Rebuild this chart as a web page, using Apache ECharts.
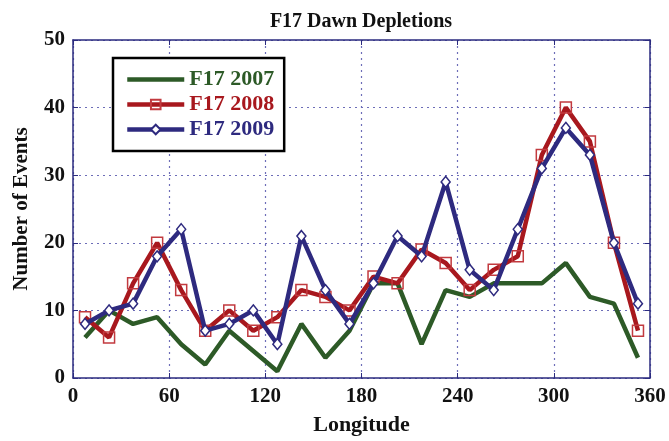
<!DOCTYPE html>
<html>
<head>
<meta charset="utf-8">
<script src="https://cdn.jsdelivr.net/npm/echarts@6/dist/echarts.min.js"></script>
<style>
  html, body { margin: 0; padding: 0; background: #fff; }
  #chart { width: 669px; height: 441px; }
</style>
</head>
<body>
<div id="chart"></div>
<script>
// Longitude bin centres (15-degree bins)
const longitudes = [7.5, 22.5, 37.5, 52.5, 67.5, 82.5, 97.5, 112.5, 127.5, 142.5, 157.5, 172.5,
                    187.5, 202.5, 217.5, 232.5, 247.5, 262.5, 277.5, 292.5, 307.5, 322.5, 337.5, 352.5];
// Event counts per bin
const f17_2007 = [6, 10, 8, 9, 5, 2, 7, 4, 1, 8, 3, 7, 14, 14, 5, 13, 12, 14, 14, 14, 17, 12, 11, 3];
const f17_2008 = [9, 6, 14, 20, 13, 7, 10, 7, 9, 13, 12, 10, 15, 14, 19, 17, 13, 16, 18, 33, 40, 35, 20, 7];
const f17_2009 = [8, 10, 11, 18, 22, 7, 8, 10, 5, 21, 13, 8, 14, 21, 18, 29, 16, 13, 22, 31, 37, 33, 20, 11];
const seriesNames = ['F17 2007', 'F17 2008', 'F17 2009'];
const xTicks = [0, 60, 120, 180, 240, 300, 360];
const yTicks = [0, 10, 20, 30, 40, 50];

const FONT = '"Liberation Serif", "Times New Roman", serif';
const AXIS_COLOR = '#2b2b7f';
const GRID_COLOR = '#6d6db8';
const COLORS = ['#2d5a27', '#a8181e', '#2e2a7f'];
const LINE_W = 4.5;

const pairs = vals => longitudes.map((x, i) => [x, vals[i]]);

const tickStyle = { show: true, inside: true, length: 5, lineStyle: { color: AXIS_COLOR, width: 1 } };
const labelStyle = { fontFamily: FONT, fontWeight: 'bold', fontSize: 21, color: '#111' };
const gridLine = { show: true, lineStyle: { color: GRID_COLOR, type: [2, 4], width: 1.2 } };

const chart = echarts.init(document.getElementById('chart'), null, { renderer: 'canvas' });
chart.setOption({
  animation: false,
  backgroundColor: '#fff',
  title: {
    text: 'F17 Dawn Depletions',
    left: 356, top: 7, textAlign: 'center',
    textStyle: { fontFamily: FONT, fontWeight: 'bold', fontSize: 20, color: '#111' }
  },
  grid: { left: 73, right: 19, top: 40, bottom: 58, containLabel: false },
  legend: {
    left: 113, top: 58,
    orient: 'vertical',
    data: [
      { name: seriesNames[0], textStyle: { color: COLORS[0] },
        itemStyle: { opacity: 0 }, lineStyle: { width: LINE_W, color: COLORS[0] } },
      { name: seriesNames[1], textStyle: { color: COLORS[1] },
        lineStyle: { width: LINE_W, color: COLORS[1] } },
      { name: seriesNames[2], textStyle: { color: COLORS[2] },
        lineStyle: { width: LINE_W, color: COLORS[2] } }
    ],
    itemWidth: 57, itemHeight: 12, itemGap: 0,
    padding: [9, 10, 9, 12],
    borderColor: '#000', borderWidth: 2.5, backgroundColor: '#fff',
    textStyle: { fontFamily: FONT, fontWeight: 'bold', fontSize: 22, lineHeight: 25 }
  },
  xAxis: [{
    type: 'value', min: xTicks[0], max: xTicks[xTicks.length - 1], interval: 60,
    name: 'Longitude', nameLocation: 'middle', nameGap: 36,
    nameTextStyle: { fontFamily: FONT, fontWeight: 'bold', fontSize: 22, color: '#111' },
    axisLine: { show: true, onZero: false, lineStyle: { color: AXIS_COLOR, width: 1.5 } },
    axisTick: tickStyle,
    axisLabel: Object.assign({ margin: 8 }, labelStyle),
    splitLine: gridLine
  }, {
    type: 'value', position: 'top', min: xTicks[0], max: xTicks[xTicks.length - 1], interval: 60,
    axisLine: { show: true, onZero: false, lineStyle: { color: AXIS_COLOR, width: 1.5 } },
    axisTick: tickStyle, axisLabel: { show: false }, splitLine: { show: false }
  }],
  yAxis: [{
    type: 'value', min: yTicks[0], max: yTicks[yTicks.length - 1], interval: 10,
    name: 'Number of Events', nameLocation: 'middle', nameGap: 41,
    nameTextStyle: { fontFamily: FONT, fontWeight: 'bold', fontSize: 21, color: '#111' },
    axisLine: { show: true, onZero: false, lineStyle: { color: AXIS_COLOR, width: 1.5 } },
    axisTick: tickStyle,
    axisLabel: Object.assign({ margin: 8 }, labelStyle),
    splitLine: gridLine
  }, {
    type: 'value', position: 'right', min: yTicks[0], max: yTicks[yTicks.length - 1], interval: 10,
    axisLine: { show: true, onZero: false, lineStyle: { color: AXIS_COLOR, width: 1.5 } },
    axisTick: tickStyle, axisLabel: { show: false }, splitLine: { show: false }
  }],
  series: [{
    name: seriesNames[0], type: 'line', data: pairs(f17_2007),
    symbol: 'none', z: 2,
    lineStyle: { color: COLORS[0], width: LINE_W },
    itemStyle: { color: COLORS[0] }
  }, {
    name: seriesNames[1], type: 'line', data: pairs(f17_2008),
    symbol: 'rect', symbolSize: 11, showAllSymbol: true, z: 3,
    lineStyle: { color: COLORS[1], width: LINE_W },
    itemStyle: { color: 'rgba(0,0,0,0)', borderColor: '#c23a3f', borderWidth: 1.5 }
  }, {
    name: seriesNames[2], type: 'line', data: pairs(f17_2009),
    symbol: 'diamond', symbolSize: [9, 11], showAllSymbol: true, z: 4,
    lineStyle: { color: COLORS[2], width: LINE_W },
    itemStyle: { color: '#fff', borderColor: COLORS[2], borderWidth: 1.5 }
  }]
});
</script>
</body>
</html>
